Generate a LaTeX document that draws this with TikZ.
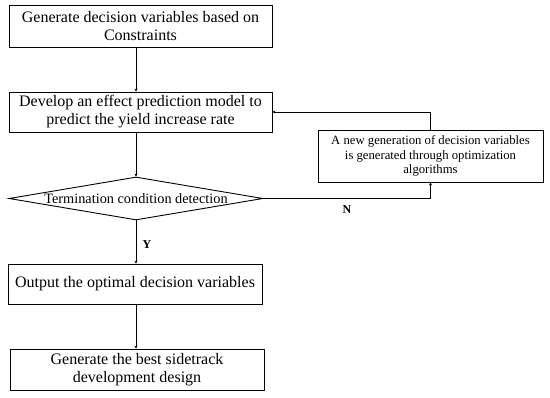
\documentclass[tikz,border=0pt]{standalone}
\usepackage{fontspec}
\setmainfont{Liberation Serif}
\usetikzlibrary{shapes.geometric,arrows.meta}
\begin{document}
\begin{tikzpicture}[x=1pt,y=1pt,
  box/.style={draw,line width=0.9pt,inner sep=0pt,align=center,font=\fontsize{16}{18}\selectfont},
  arr/.style={line width=0.9pt,-{Stealth[length=3pt,width=3pt]}},
  lbl/.style={font=\fontsize{12}{14}\selectfont\bfseries}]
\useasboundingbox (0,0) rectangle (550,-398);
\node[box,minimum width=263pt,minimum height=42pt] (b1) at (140.5,-26) {Generate decision variables based on\\Constraints};
\node[box,minimum width=263pt,minimum height=40pt] (b2) at (140.5,-112) {Develop an effect prediction model to\\predict the yield increase rate};
\node[diamond,draw,line width=0.9pt,inner sep=0pt,minimum width=254pt,minimum height=43pt] (d) at (136,-198.5) {};
\node[font=\fontsize{14.3}{16}\selectfont] (dt) at (d) {Termination condition detection};
\node[box,minimum width=225pt,minimum height=52pt,font=\fontsize{12.7}{14.5}\selectfont] (b3) at (430.5,-156) {A new generation of decision variables\\is generated through optimization\\algorithms};
\node[box,minimum width=254pt,minimum height=40pt] (b4) at (135,-284) {Output the optimal decision variables};
\node[box,minimum width=254pt,minimum height=41pt] (b5) at (137,-369.5) {Generate the best sidetrack\\development design};
\draw[arr] (b1.south -| d.north) -- (b2.north -| d.north);
\draw[arr] (b2.south -| d.north) -- (d.north);
\draw[arr] (d.east) -| (b3.south);
\draw[arr] (b3.north) |- (b2.east);
\draw[arr] (d.south) -- (b4.north -| d.south);
\draw[arr] (b4.south -| d.south) -- (b5.north -| d.south);
\node[lbl] (N) at (347,-210) {N};
\node[lbl] (Y) at (147,-245) {Y};
\end{tikzpicture}
\end{document}
